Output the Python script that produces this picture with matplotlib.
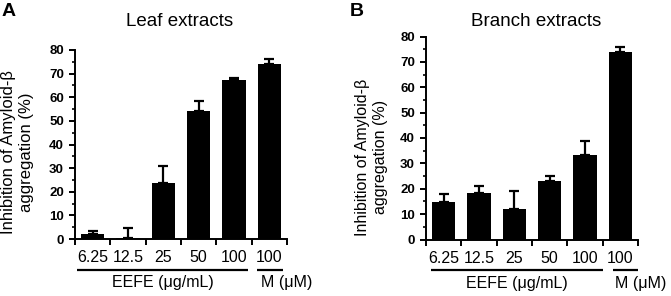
import matplotlib
matplotlib.use("Agg")
import matplotlib.pyplot as plt
import numpy as np

plt.rcParams['font.family'] = ['Liberation Sans', 'DejaVu Sans']

categories = ["6.25", "12.5", "25", "50", "100", "100"]
leaf_values = [2.2, 0.5, 23.7, 54.2, 67.5, 74.1]
leaf_errors = [1.0, 4.0, 7.3, 4.4, 0.7, 2.2]
branch_values = [14.9, 18.5, 12.1, 23.1, 33.3, 74.0]
branch_errors = [3.0, 2.4, 7.1, 2.1, 5.4, 2.0]
yticks = [0, 10, 20, 30, 40, 50, 60, 70, 80]
group_labels = ["EEFE (\u03bcg/mL)", "M (\u03bcM)"]
titles = ["Leaf extracts", "Branch extracts"]
panel_letters = ["A", "B"]
ylabel_text = "Inhibition of Amyloid-\u03b2\naggregation (%)"

W, H = 671, 296
fig = plt.figure(figsize=(W / 100, H / 100), dpi=100)

def fig_axes(left, top, right, bottom):
    return fig.add_axes([left / W, 1 - bottom / H, (right - left) / W, (bottom - top) / H])

axA = fig_axes(75, 50, 287, 239)
axB = fig_axes(426, 36.5, 638, 239.5)

def draw(ax, values, errors, eefe_span, m_span, m_x):
    x = np.arange(len(categories))
    ax.bar(x, values, width=0.66, color='black', zorder=2)
    ax.errorbar(x, values, yerr=[np.zeros(len(errors)), errors], fmt='none',
                ecolor='black', elinewidth=1.6, capsize=3.5, capthick=1.6, zorder=1)
    ax.set_xlim(-0.5, len(categories) - 0.5)
    ax.set_ylim(0, 80)
    ax.spines['top'].set_visible(False)
    ax.spines['right'].set_visible(False)
    ax.spines['left'].set_linewidth(1.4)
    ax.spines['bottom'].set_linewidth(1.4)
    ax.set_yticks(yticks)
    ax.set_yticks(np.arange(5, 80, 10), minor=True)
    ax.set_yticklabels([str(t) for t in yticks], fontweight='bold', fontsize=9.5)
    ax.set_xticks(np.arange(-0.5, len(categories), 1.0))
    ax.set_xticklabels([])
    ax.tick_params(axis='both', which='major', direction='out', length=4, width=1.4)
    ax.tick_params(axis='y', which='minor', direction='out', length=2.5, width=1.2)
    ax.tick_params(axis='y', pad=4)
    hpx = ax.get_position().height * H
    def fy(off):
        return -off / hpx
    tr = ax.get_xaxis_transform()
    for xi, lab in zip(x, categories):
        ax.text(xi, fy(19), lab, transform=tr, ha='center',
                va='center', fontsize=11.5, clip_on=False)
    ax.plot(eefe_span, [fy(30.5)] * 2, transform=tr,
            color='black', lw=1.6, clip_on=False, solid_capstyle='butt')
    ax.plot(m_span, [fy(30.5)] * 2, transform=tr,
            color='black', lw=1.6, clip_on=False, solid_capstyle='butt')
    ax.text(np.mean(eefe_span), fy(44), group_labels[0], transform=tr,
            ha='center', va='center', fontsize=11.5, clip_on=False)
    ax.text(m_x, fy(44), group_labels[1], transform=tr, ha='center', va='center',
            fontsize=11.5, clip_on=False)

draw(axA, leaf_values, leaf_errors, [-0.45, 4.4], [4.65, 5.38], 5.49)
draw(axB, branch_values, branch_errors, [-0.35, 4.5], [4.78, 5.5], 5.58)

fig.text(17.5 / W, 1 - 152 / H, ylabel_text, rotation=90, ha='center', va='center',
         fontsize=12, multialignment='center', linespacing=1.25)
fig.text(371 / W, 1 - 157 / H, ylabel_text, rotation=90, ha='center', va='center',
         fontsize=11.5, multialignment='center', linespacing=1.25)
fig.text(180 / W, 1 - 21 / H, titles[0], ha='center', va='center', fontsize=13.5)
fig.text(536 / W, 1 - 21 / H, titles[1], ha='center', va='center', fontsize=13.5)
fig.text(9 / W, 1 - 11.5 / H, panel_letters[0], ha='center', va='center', fontsize=14, fontweight='bold')
fig.text(357 / W, 1 - 11.5 / H, panel_letters[1], ha='center', va='center', fontsize=14, fontweight='bold')

fig.savefig("out.png", dpi=100)
